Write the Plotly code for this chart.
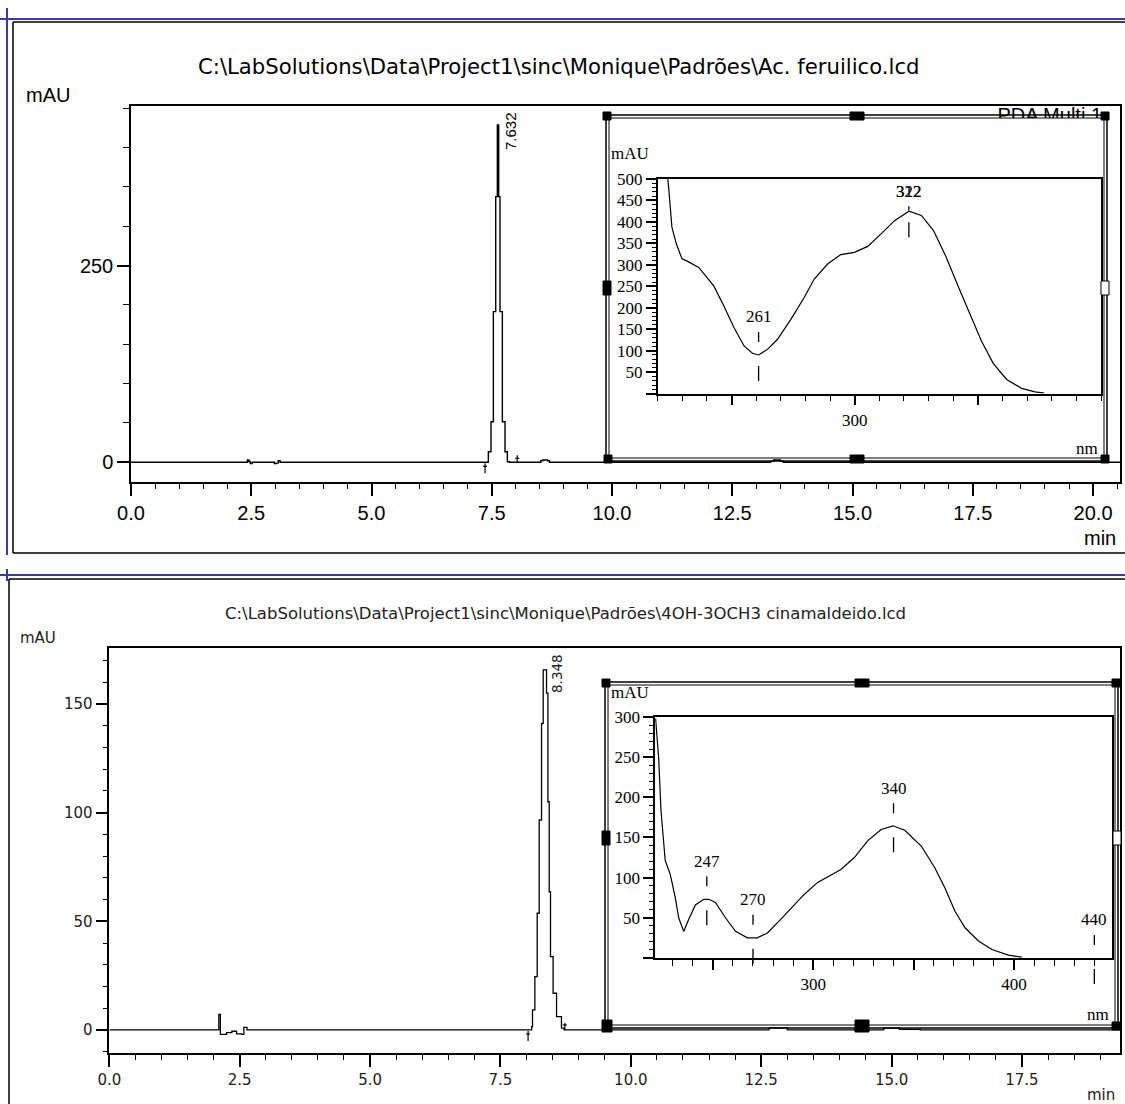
import plotly.graph_objects as go

W, H = 1125, 1104

# ---------------- data ----------------
top_title = "C:\\LabSolutions\\Data\\Project1\\sinc\\Monique\\Padrões\\Ac. feruilico.lcd"
bottom_title = "C:\\LabSolutions\\Data\\Project1\\sinc\\Monique\\Padrões\\4OH-3OCH3 cinamaldeido.lcd"
legend_text = "PDA Multi 1"

# top chromatogram (min, mAU)
top_time = [0.0, 2.42, 2.45, 2.48, 2.52, 2.98, 3.02, 3.06, 3.10,
            7.38, 7.429, 7.484, 7.533, 7.582, 7.616, 7.644, 7.671, 7.720, 7.775, 7.824, 7.87,
            8.52, 8.56, 8.66, 8.70,
            13.30, 13.36, 13.50, 13.56, 20.56]
top_mau = [0, 3.0, 1.0, -1.5, 0, -1.5, -1.0, 2.0, 0,
           0, 13.5, 51.6, 191.4, 337.5, 428.6, 337.5, 191.4, 51.6, 13.5, 0.8, 0,
           2.0, 3.0, 2.0, 0,
           1.5, 3.0, 1.5, 0, 0]
top_peak_label = "7.632"
top_int_start = 7.36
top_int_end = 8.03

# bottom chromatogram (min, mAU)
bot_time = [0.0, 2.10, 2.13, 2.25, 2.35, 2.44, 2.54, 2.58, 2.64,
            8.10, 8.115, 8.16, 8.205, 8.243, 8.288, 8.32, 8.384, 8.41, 8.435, 8.46, 8.51, 8.576, 8.67, 8.72,
            12.65, 13.0, 14.85, 15.15, 15.55, 19.38]
bot_mau = [0, 7.2, -2.0, -1.2, -0.6, -1.8, -2.0, 1.2, 0,
           1.5, 9.2, 24.5, 53.7, 96.6, 141.0, 165.7, 155.0, 105.0, 63.6, 33.7, 16.9, 6.1, 0.8, 0,
           1.0, 0, 0.8, 0.3, 0, 0]
bot_peak_label = "8.348"
bot_int_start = 8.03
bot_int_end = 8.735

# top UV spectrum (nm, mAU)
spec_top_nm = [223.0, 224.5, 225.8, 227.6, 229.9, 232.2, 236.7, 242.8, 246.9, 251.0, 255.1, 258.5,
               261.0, 264.6, 268.6, 274.1, 279.5, 283.6, 289.0, 294.4, 299.9, 305.3, 310.7, 316.2,
               322.0, 327.1, 332.0, 337.0, 342.0, 346.1, 351.5, 356.3, 361.7, 367.8, 373.2, 377.0]
spec_top_mau = [560, 480, 388, 349, 314, 308, 294, 251, 204, 154, 111, 94,
                90, 103, 126, 173, 224, 267, 302, 324, 329, 343, 372, 403,
                425, 415, 380, 320, 250, 193, 122, 70, 33, 12, 4, 1]
spec_top_marks_nm = [261, 322]
spec_top_marks_mau = [90, 425]
spec_top_marks_text = ["261", "322"]

# bottom UV spectrum (nm, mAU)
spec_bot_nm = [221.5, 223.0, 224.2, 226.3, 228.8, 231.3, 233.0, 235.5, 238.0, 241.3, 245.5, 248.0,
               251.3, 256.3, 261.3, 267.2, 272.1, 277.2, 283.8, 290.5, 295.5, 302.2, 308.9, 313.8,
               320.5, 327.2, 333.8, 339.7, 345.6, 353.9, 360.6, 365.6, 370.6, 375.6, 382.3, 389.0,
               397.2, 403.9]
spec_bot_mau = [298, 250, 183, 121, 104, 75, 50, 33, 48, 66, 73, 73,
                69, 50, 33, 25, 25, 31, 48, 66, 79, 94, 103, 110,
                125, 146, 160, 164.5, 159, 139, 112, 87, 58, 37.5, 21, 10.4,
                3.4, 1]
spec_bot_marks_nm = [247, 270, 340, 440]
spec_bot_marks_mau = [73, 25, 164, 0]
spec_bot_marks_text = ["247", "270", "340", "440"]


# ---------------- placement helpers (pixel -> paper) ----------------
def xd(a, b):
    return [a / W, b / W]


def yd(top, bottom):
    return [1 - bottom / H, 1 - top / H]


def px(x):
    return x / W


def py(y):
    return 1 - y / H


BLUE = "#3A3AA6"
SANS = "Liberation Sans"
DEJA = "DejaVu Sans"
SERIF = "Liberation Serif"

fig = go.Figure()

# top chromatogram
fig.add_trace(go.Scatter(x=top_time, y=top_mau, mode="lines", xaxis="x", yaxis="y",
                         line=dict(color="black", width=1.4, shape="hv"),
                         showlegend=False, hoverinfo="skip"))
fig.add_trace(go.Scatter(x=[19.1], y=[438.8], mode="text", text=[legend_text], xaxis="x", yaxis="y",
                         textfont=dict(family=SANS, size=20, color="black"), cliponaxis=False,
                         showlegend=False, hoverinfo="skip"))
# white panel of the top inset (hides what lies under it)
fig.add_trace(go.Scatter(x=[0, 1, 1, 0, 0], y=[0, 0, 1, 1, 0], mode="lines", fill="toself",
                         fillcolor="white", line=dict(width=0, color="white"),
                         xaxis="x2", yaxis="y2", showlegend=False, hoverinfo="skip"))
# top spectrum
fig.add_trace(go.Scatter(x=spec_top_nm, y=spec_top_mau, mode="lines", xaxis="x3", yaxis="y3",
                         line=dict(color="black", width=1.2), showlegend=False, hoverinfo="skip"))
# bottom chromatogram
fig.add_trace(go.Scatter(x=bot_time, y=bot_mau, mode="lines", xaxis="x4", yaxis="y4",
                         line=dict(color="black", width=1.3, shape="hv"),
                         showlegend=False, hoverinfo="skip"))
# bottom spectrum
fig.add_trace(go.Scatter(x=spec_bot_nm, y=spec_bot_mau, mode="lines", xaxis="x5", yaxis="y5",
                         line=dict(color="black", width=1.2), showlegend=False, hoverinfo="skip"))

AX = dict(showline=True, linecolor="black", linewidth=1.5, mirror=True, showgrid=False,
          zeroline=False, ticks="outside", tickcolor="black", tickwidth=1.5, fixedrange=True,
          automargin=False)


def minor(d, t0, ln):
    return dict(tickmode="linear", tick0=t0, dtick=d, ticklen=ln, ticks="outside",
                tickcolor="black", tickwidth=1.3, showgrid=False)


f_top = dict(family=SANS, size=20, color="black")
f_bot = dict(family=DEJA, size=15, color="#222")
f_ser = dict(family=SERIF, size=17, color="black")

layout = dict(
    width=W, height=H, autosize=False,
    margin=dict(l=0, r=0, t=0, b=0, pad=0, autoexpand=False),
    paper_bgcolor="white", plot_bgcolor="white", showlegend=False,
    # top chromatogram
    xaxis=dict(AX, domain=xd(131, 1120), range=[0, 20.56], anchor="y", tickmode="linear",
               tick0=0, dtick=2.5, ticklen=12, tickformat=".1f", tickfont=f_top,
               minor=minor(0.5, 0, 5)),
    yaxis=dict(AX, domain=yd(106, 482), range=[-25.0, 452.7], anchor="x", tickmode="linear",
               tick0=0, dtick=250, ticklen=12, tickfont=f_top, minor=minor(50, 0, 6)),
    # white panel
    xaxis2=dict(domain=xd(609, 1103), range=[0, 1], visible=False, anchor="y2", fixedrange=True),
    yaxis2=dict(domain=yd(118, 458), range=[0, 1], visible=False, anchor="x2", fixedrange=True),
    # top spectrum
    xaxis3=dict(AX, domain=xd(657.6, 1101), range=[220, 400], anchor="y3", tickmode="array",
                tickvals=[250, 300, 350], ticktext=["", "300", ""], ticklen=10, tickfont=f_ser,
                minor=minor(10, 220, 6)),
    yaxis3=dict(AX, domain=yd(179, 393.6), range=[0, 500], anchor="x3", tickmode="array",
                tickvals=list(range(0, 501, 50)),
                ticktext=[""] + [str(v) for v in range(50, 501, 50)],
                ticklen=10, tickfont=f_ser, minor=minor(10, 0, 4)),
    # bottom chromatogram
    xaxis4=dict(AX, domain=xd(109.3, 1120), range=[0, 19.38], anchor="y4", tickmode="linear",
                tick0=0, dtick=2.5, ticklen=12, tickformat=".1f", tickfont=f_bot,
                minor=minor(0.5, 0, 5)),
    yaxis4=dict(AX, domain=yd(648.3, 1053), range=[-10.6, 175.6], anchor="x4", tickmode="linear",
                tick0=0, dtick=50, ticklen=12, tickfont=f_bot, minor=minor(10, 0, 5)),
    # bottom spectrum
    xaxis5=dict(AX, domain=xd(655.2, 1112.2), range=[221.3, 448.9], anchor="y5", tickmode="array",
                tickvals=[250, 300, 350, 400], ticktext=["", "300", "", "400"], ticklen=10,
                tickfont=f_ser, minor=minor(10, 220, 6)),
    yaxis5=dict(AX, domain=yd(717, 957.9), range=[0, 300], anchor="x5", tickmode="array",
                tickvals=list(range(0, 301, 50)),
                ticktext=[""] + [str(v) for v in range(50, 301, 50)],
                ticklen=10, tickfont=f_ser, minor=minor(10, 0, 4)),
)
fig.update_layout(**layout)

ann = []


def text(x, y, s, font, xanchor="center", angle=0):
    ann.append(dict(x=px(x), y=py(y), xref="paper", yref="paper", text=s, showarrow=False,
                    font=font, xanchor=xanchor, yanchor="middle", textangle=angle))


text(559, 67, top_title, dict(family=DEJA, size=21.2, color="black"))
text(24, 95, "mAU", f_top, xanchor="left")
text(1100, 538, "min", f_top)
text(565, 613, bottom_title, dict(family=DEJA, size=16.5, color="#222"))
text(18, 638, "mAU", f_bot, xanchor="left")
text(1101, 1095, "min", f_bot)
text(630, 153, "mAU", f_ser)
text(630, 692, "mAU", f_ser)
text(1087, 448, "nm", f_ser)
text(1098, 1014, "nm", f_ser)
text(510, 131, top_peak_label, dict(family=SANS, size=15, color="black"), angle=-90)
text(557, 674, bot_peak_label, dict(family=DEJA, size=13.5, color="#222"), angle=-90)


def marks(nms, vals, labels, xr, yr, label_shift, above):
    for n, v, s, ls, ab in zip(nms, vals, labels, label_shift, above):
        ann.append(dict(x=n, y=v, xref=xr, yref=yr, text=s, showarrow=False, font=f_ser,
                        yshift=ls, yanchor="middle"))
        # dash above the point
        ann.append(dict(x=n, y=v, xref=xr, yref=yr, text=" ", font=dict(size=1), showarrow=True,
                        arrowhead=0, arrowwidth=1.3, arrowcolor="black", ax=0, ay=-ab[1],
                        standoff=ab[0], startstandoff=0))
        # dash below the point
        ann.append(dict(x=n, y=v, xref=xr, yref=yr, text=" ", font=dict(size=1), showarrow=True,
                        arrowhead=0, arrowwidth=1.3, arrowcolor="black", ax=0, ay=28,
                        standoff=11, startstandoff=0))


marks(spec_top_marks_nm, spec_top_marks_mau, spec_top_marks_text, "x3", "y3",
      [38, 20], [(13, 25), (1, 7)])
# overlapped second label of the top spectrum maximum
ann.append(dict(x=322, y=425, xref="x3", yref="y3", text="312", showarrow=False, font=f_ser,
                yshift=20, yanchor="middle"))
marks(spec_bot_marks_nm, spec_bot_marks_mau, spec_bot_marks_text, "x5", "y5",
      [38, 38, 38, 38], [(13, 25)] * 4)

fig.update_layout(annotations=ann)

shapes = []


def pline(x0, y0, x1, y1, color="black", w=1.5):
    shapes.append(dict(type="line", xref="paper", yref="paper", x0=px(x0), y0=py(y0),
                       x1=px(x1), y1=py(y1), line=dict(color=color, width=w), layer="above"))


def prect(x0, y0, x1, y1, fill=None, w=1.5):
    shapes.append(dict(type="rect", xref="paper", yref="paper", x0=px(x0), y0=py(y0),
                       x1=px(x1), y1=py(y1), line=dict(color="black", width=w),
                       fillcolor=fill if fill else "rgba(0,0,0,0)", layer="above"))


def handle(hx, hy, w, h, filled=True):
    prect(hx - w / 2, hy - h / 2, hx + w / 2, hy + h / 2, fill="black" if filled else "white", w=1)


# top panel frame
pline(0, 19, 1125, 19, BLUE, 2)
pline(7, 8, 7, 555, BLUE, 2)
pline(13, 22, 1125, 22, "black", 1.5)
pline(13, 22, 13, 553, "black", 1.5)
pline(13, 553, 1125, 553, "black", 1.5)
# bottom panel frame
pline(0, 575, 1125, 575, BLUE, 2)
pline(7, 569, 7, 581, BLUE, 2)
pline(9, 579, 1125, 579, "black", 1.5)
pline(9, 579, 9, 1110, "black", 1.5)

# top inset selection frame
prect(606, 115, 1107, 461, w=1.5)
prect(609, 118, 1104, 458, w=1)
for (hx, hy, ww, hh, fl) in [(607, 116, 8, 8, True), (857, 116, 14, 8, True), (1105, 116, 8, 8, True),
                             (607, 288, 8, 14, True), (1105, 288, 8, 14, False),
                             (608, 459, 8, 8, True), (857, 459, 14, 8, True), (1105, 459, 8, 8, True)]:
    handle(hx, hy, ww, hh, fl)

# bottom inset selection frame
prect(605, 682, 1118, 1028, w=1.5)
prect(608, 685, 1115, 1025, w=1)
for (hx, hy, ww, hh, fl) in [(606, 683, 8, 8, True), (862, 683, 14, 8, True), (1116, 683, 8, 8, True),
                             (606, 838, 8, 14, True), (1117, 838, 8, 14, False),
                             (607, 1026, 10, 12, True), (862, 1026, 14, 12, True), (1116, 1026, 8, 8, True)]:
    handle(hx, hy, ww, hh, fl)


# integration start/end marks on the chromatograms
def tickmark(t, xr, yr, y0, y1, ybar):
    shapes.append(dict(type="line", xref=xr, yref=yr, xsizemode="pixel", ysizemode="pixel",
                       xanchor=t, yanchor=0, x0=0, x1=0, y0=y0, y1=y1,
                       line=dict(color="black", width=1.2)))
    shapes.append(dict(type="line", xref=xr, yref=yr, xsizemode="pixel", ysizemode="pixel",
                       xanchor=t, yanchor=0, x0=-2, x1=2, y0=ybar, y1=ybar,
                       line=dict(color="black", width=1.2)))


tickmark(top_int_start, "x", "y", -1, -11, -4)
tickmark(top_int_end, "x", "y", 0, 7, 4)
tickmark(bot_int_start, "x4", "y4", -1, -11, -4)
tickmark(bot_int_end, "x4", "y4", 0, 7, 5)

fig.update_layout(shapes=shapes)

POST = ("document.documentElement.style.margin='0px';"
        "document.documentElement.style.overflow='hidden';"
        "document.body.style.margin='0px';"
        "document.body.style.overflow='hidden';")

fig.write_html("out.html", config={"displayModeBar": False}, post_script=POST)
